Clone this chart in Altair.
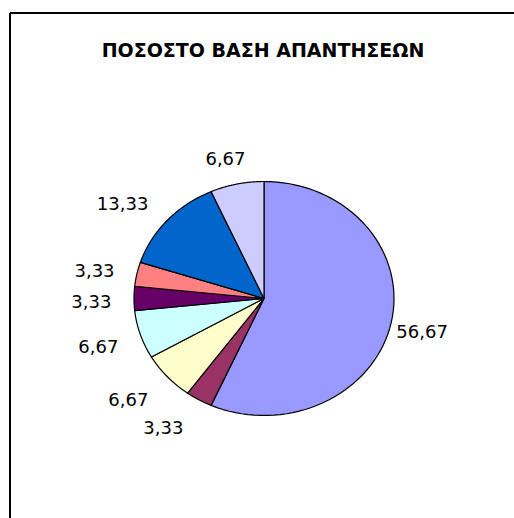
import altair as alt
import pandas as pd

# ---- data ----
TITLE = "ΠΟΣΟΣΤΟ ΒΑΣΗ ΑΠΑΝΤΗΣΕΩΝ"
slice_ids = ["s1", "s2", "s3", "s4", "s5", "s6", "s7", "s8"]
values = [56.67, 3.33, 6.67, 6.67, 3.33, 3.33, 13.33, 6.67]
colors = ["#9999FF", "#993366", "#FFFFCC", "#CCFFFF", "#660066", "#FF8080", "#0066CC", "#CCCCFF"]
labels = [f"{v:.2f}".replace(".", ",") for v in values]

df = pd.DataFrame({
    "slice": slice_ids,
    "order": list(range(len(values))),
    "value": values,
    "label": labels,
})

# ---- layout ----
PAD_L, PAD_T = 10, 13
W, H = 514 - PAD_L, 518 - PAD_T
CX, CY = 254, 285.5          # pie centre in view coords
RX, RY = 130, 117            # elliptical pie (as drawn by the original)
N = 72                       # arc resolution

xs = alt.Scale(domain=[-1, 1], range=[CX - RX, CX + RX], nice=False, zero=False)
ys = alt.Scale(domain=[-1, 1], range=[CY + RY, CY - RY], nice=False, zero=False)

base = alt.Chart(df).transform_joinaggregate(
    total="sum(value)"
).transform_window(
    cum="sum(value)", sort=[alt.SortField("order")], frame=[None, 0]
).transform_calculate(
    a0="2*PI*(datum.cum - datum.value)/datum.total",
    a1="2*PI*datum.cum/datum.total",
)

pie = base.transform_calculate(
    k=f"sequence(0, {N + 3})"
).transform_flatten(
    ["k"]
).transform_calculate(
    t=f"clamp(datum.k - 1, 0, {N}) / {N}",
    edge=f"datum.k >= 1 && datum.k <= {N + 1}",
).transform_calculate(
    ang="datum.a0 + (datum.a1 - datum.a0) * datum.t",
).transform_calculate(
    px="datum.edge ? sin(datum.ang) : 0",
    py="datum.edge ? cos(datum.ang) : 0",
).mark_line(
    filled=True, stroke="black", strokeWidth=1.2, strokeJoin="round"
).encode(
    x=alt.X("px:Q", scale=xs, axis=None),
    y=alt.Y("py:Q", scale=ys, axis=None),
    color=alt.Color("slice:N", scale=alt.Scale(domain=slice_ids, range=colors), legend=None),
    order=alt.Order("k:Q"),
)

lab = base.transform_calculate(
    mid="(datum.a0 + datum.a1)/2"
).transform_calculate(
    s="sin(datum.mid)", c="cos(datum.mid)"
).transform_calculate(
    lx="1.108*datum.s - 0.066", ly="1.25*datum.c - 0.037"
)

txt = dict(baseline="middle", font="DejaVu Sans", fontSize=18, color="black")
enc = dict(
    x=alt.X("lx:Q", scale=xs, axis=None),
    y=alt.Y("ly:Q", scale=ys, axis=None),
    text=alt.Text("label:N"),
)
lab_left = lab.transform_filter("datum.s < -0.4").mark_text(align="right", **txt).encode(**enc)
lab_top = lab.transform_filter("datum.s >= -0.4 && datum.s <= 0.4").mark_text(align="center", **txt).encode(**enc)
lab_right = lab.transform_filter("datum.s > 0.4").mark_text(align="left", **txt).encode(**enc)

one = pd.DataFrame({"t": [TITLE]})
title = alt.Chart(one).mark_text(
    align="center", baseline="alphabetic", font="DejaVu Sans", fontSize=19,
    fontWeight="bold", color="black"
).encode(text="t:N", x=alt.value(253), y=alt.value(44))

frame_top = alt.Chart(one).mark_rule(color="black", strokeWidth=2).encode(
    x=alt.value(0), x2=alt.value(W), y=alt.value(0)
)
frame_left = alt.Chart(one).mark_rule(color="black", strokeWidth=2).encode(
    x=alt.value(0), y=alt.value(0), y2=alt.value(H)
)

chart = alt.layer(
    pie, lab_left, lab_top, lab_right, title, frame_top, frame_left
).properties(
    width=W, height=H,
    padding={"left": PAD_L, "top": PAD_T, "right": 0, "bottom": 0},
    autosize="none",
    background="white",
).configure_view(strokeWidth=0)

chart.save("out.html", embed_options={"renderer": "svg", "actions": False})
